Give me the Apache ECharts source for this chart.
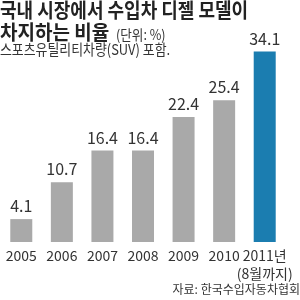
<!DOCTYPE html>
<html><head><meta charset="utf-8">
<script src="https://cdn.jsdelivr.net/npm/echarts@6/dist/echarts.min.js"></script>
<style>html,body{margin:0;padding:0;background:#fff}#c{width:300px;height:300px}</style>
</head><body><div id="c"></div>
<script>
const categories = ['2005','2006','2007','2008','2009','2010','2011년\n(8월까지)'];
const values = [4.1, 10.7, 16.4, 16.4, 22.4, 25.4, 34.1];
const highlightIndex = 6;

const NUM = '"Liberation Sans Narrow", "Noto Sans CJK KR", sans-serif';
const KR = '"Noto Sans CJK KR", sans-serif';
const chart = echarts.init(document.getElementById('c'));
function txt(x, y, text, font, sx, fill) {
  return {type: 'text', x: x, y: y, scaleX: sx, originX: 0, originY: 0,
    style: {text: text, font: font, fill: fill, verticalAlign: 'top', align: 'left'}};
}
chart.setOption({
  animation: false,
  backgroundColor: '#fff',
  grid: {left: 1, right: 15, top: 41, bottom: 58},
  xAxis: {
    type: 'category', data: categories,
    axisLine: {show: false}, axisTick: {show: false},
    axisLabel: {color: '#333', fontSize: 14, fontFamily: NUM, margin: 5, lineHeight: 18, interval: 0}
  },
  yAxis: {type: 'value', min: 0, max: 36, show: false, splitLine: {show: false}},
  series: [{
    type: 'bar', barWidth: 22,
    data: values.map((v, i) => ({value: v, itemStyle: {color: i === highlightIndex ? '#1b7db0' : '#a9a9a9'}})),
    label: {show: true, position: 'top', distance: 5, color: '#333', fontSize: 16, fontFamily: NUM}
  }],
  graphic: [
    txt(0, 0, '국내 시장에서 수입차 디젤 모델이', 'bold 20px ' + KR, 0.9, '#222'),
    txt(0, 22, '차지하는 비율', 'bold 20px ' + KR, 0.95, '#222'),
    txt(116, 28, '(단위: %)', '14px ' + KR, 0.9, '#333'),
    txt(0, 42, '스포츠유틸리티차량(SUV) 포함.', '15px ' + KR, 0.86, '#333'),
    {type: 'text', right: 0, top: 283, style: {text: '자료: 한국수입자동차협회', font: '12px ' + KR, fill: '#333'}}
  ]
});
</script></body></html>
